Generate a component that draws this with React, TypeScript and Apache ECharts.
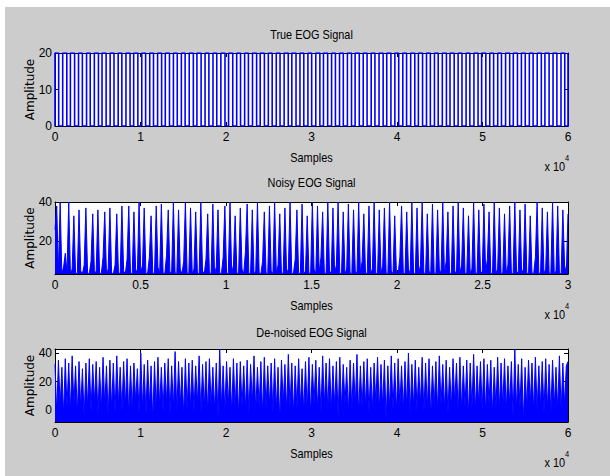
import React, { useEffect, useRef } from "react";
import * as echarts from "echarts";

// ---- data ----
const titles = ["True EOG Signal", "Noisy EOG Signal", "De-noised EOG Signal"];
const xLabel = "Samples";
const yLabel = "Amplitude";
const xScaleNote = "x 10";
const xScaleExp = "4";

// True EOG: sample positions where the square wave toggles between 0 and 20
const trueLow = 0;
const trueHigh = 20;
const trueEdges = [
  0, 430, 900, 1380, 1800, 2290, 2750, 3200, 3690, 4120, 4600, 5080, 5500, 5980, 6450, 6900,
  7390, 7820, 8300, 8780, 9200, 9690, 10150, 10600, 11080, 11520, 12000, 12470, 12900, 13390,
  13850, 14300, 14780, 15220, 15700, 16180, 16600, 17090, 17550, 18000, 18480, 18920, 19400,
  19880, 20300, 20790, 21250, 21700, 22180, 22620, 23100, 23580, 24000, 24490, 24950, 25400,
  25880, 26320, 26800, 27280, 27700, 28190, 28650, 29100, 29580, 30020, 30500, 30980, 31400,
  31890, 32350, 32800, 33280, 33720, 34200, 34680, 35100, 35590, 36050, 36500, 36980, 37420,
  37900, 38380, 38800, 39290, 39750, 40200, 40680, 41120, 41600, 42080, 42500, 42990, 43450,
  43900, 44380, 44820, 45300, 45780, 46200, 46690, 47150, 47600, 48080, 48520, 49000, 49480,
  49900, 50390, 50850, 51300, 51780, 52220, 52700, 53180, 53600, 54090, 54550, 55000, 55480,
  55920, 56400, 56880, 57300, 57790, 58250, 58700, 59180, 59620, 60000,
];

// Noisy EOG: amplitude samples over 0 .. 3e4
const noisyXMax = 30000;
const noisyValues = [
  26, 38, 4, 40, 3.6, 7, 14, 4, 40, 3.6, 6, 33, 4, 3.6, 36, 5, 3.6, 8, 37, 4,
  3.6, 10, 34, 3.6, 5, 36, 4, 3.6, 12, 35, 3.6, 6, 37, 4, 3.6, 8, 34, 3.6, 4, 38,
  5, 3.6, 11, 38, 4, 3.6, 35, 6, 3.6, 40, 4, 8, 37, 3.6, 4, 12, 33, 4, 3.6, 38,
  7, 3.6, 39, 4, 3.6, 13, 36, 3.6, 5, 40, 4, 3.6, 36, 6, 3.6, 10, 40, 4, 3.6, 37,
  3.6, 6, 35, 4, 3.6, 40, 5, 3.6, 11, 34, 3.6, 4, 39, 3.6, 7, 36, 4, 3.6, 12, 38,
  4, 3.6, 40, 3.6, 8, 33, 4, 3.6, 37, 6, 3.6, 15, 39, 3.6, 4, 36, 3.6, 5, 40, 4,
  3.6, 10, 35, 4, 3.6, 38, 5, 3.6, 40, 4, 8, 34, 3.6, 4, 37, 4, 6, 40, 3.6, 4,
  11, 36, 3.6, 4, 39, 3.6, 5, 33, 4, 3.6, 40, 6, 3.6, 38, 4, 12, 35, 3.6, 4, 40,
  5, 3.6, 37, 4, 8, 40, 3.6, 4, 35, 3.6, 6, 39, 4, 3.6, 36, 5, 3.6, 40, 4, 10,
  34, 3.6, 4, 38, 4, 6, 40, 3.6, 4, 36, 3.6, 8, 37, 4, 3.6, 40, 5, 3.6, 33, 4,
  3.6, 12, 38, 4, 3.6, 35, 6, 3.6, 40, 4, 3.6, 37, 3.6, 8, 40, 4, 3.6, 34, 5, 3.6,
  39, 4, 3.6, 36, 6, 3.6, 40, 3.6, 10, 35, 4, 3.6, 38, 5, 3.6, 40, 4, 8, 37, 3.6,
  4, 33, 4, 6, 40, 3.6, 4, 36, 5, 3.6, 39, 4, 11, 35, 3.6, 4, 40, 4, 6, 37,
  3.6, 4, 34, 3.6, 8, 38, 4, 3.6, 40, 5, 3.6, 36, 3.6, 6, 39, 4, 3.6, 33, 4, 3.6,
  12, 40, 4, 3.6, 37, 3.6, 6, 35, 4, 3.6, 40, 3.6, 5, 38, 4, 3.6, 36, 8, 3.6, 34,
];

// De-noised EOG: amplitude samples over 0 .. 6e4
const denoisedXMax = 60000;
const denoisedValues = [
  32, -2, 35, 3, 30, -4, 36, 2, 33, -1, 38, 4, 31, -3, 34, 1, 29, -6, 33, 2,
  36, -1, 32, 5, 34, -3, 30, 0, 37, 3, 31, -5, 35, 1, 33, -2, 38, 4, 30, -1,
  34, 2, 36, -4, 31, 0, 33, 6, 29, -2, 40, 1, 32, -3, 35, 3, 31, -8, 34, 0,
  37, 2, 30, -1, 33, 5, 36, -3, 31, 1, 41, -2, 34, 3, 30, -4, 36, 0, 33, 2,
  35, -1, 31, 4, 38, -3, 32, 1, 34, -2, 36, 3, 30, 0, 33, -5, 42.8, 2, 31, -1,
  34, 4, 30, -2, 36, 1, 33, -4, 34, 2, 31, 0, 35, -3, 32, 5, 38, -1, 30, 2,
  34, -3, 37, 1, 31, 3, 33, -2, 36, 0, 30, -8, 35, 4, 32, -1, 39, 2, 33, -3,
  31, 1, 36, 3, 29, -2, 34, 0, 37, -4, 32, 5, 35, 1, 30, -2, 38, 3, 33, 0,
  36, -1, 31, 2, 34, -5, 37, 1, 32, 4, 30, -2, 35, 0, 33, 3, 39, -3, 31, 1,
  34, 2, 36, -2, 30, 0, 33, 5, 37, -1, 32, 2, 35, -8, 31, 1, 38, 0, 33, -2,
  36, 3, 31, -1, 34, 1, 40, -3, 32, 2, 35, 0, 30, 4, 37, -2, 33, 1, 36, -5,
  31, 2, 34, -1, 38, 3, 32, 0, 35, -3, 30, 1, 36, 5, 33, -2, 37, 0, 31, 2,
  35, -4, 33, 1, 39, -1, 31, 3, 34, 0, 36, -2, 32, 4, 35, -3, 30, 1, 37, 0,
  33, 2, 36, -1, 31, 3, 34, -5, 42.8, 0, 32, 2, 36, -8, 30, 1, 35, 4, 33, -1,
  37, 0, 31, 3, 34, -2, 36, 1, 32, -3, 35, 2, 30, 0, 38, -1, 33, 3, 31, 34,
];

// axis ranges and tick values
const trueY = { min: 0, max: 20, ticks: [0, 10, 20] };
const noisyY = { min: 3.5, max: 40, ticks: [20, 40] };
const denoisedY = { min: -8.3, max: 42.8, ticks: [0, 20, 40] };
const trueXTicks = [0, 10000, 20000, 30000, 40000, 50000, 60000];
const noisyXTicks = [0, 5000, 10000, 15000, 20000, 25000, 30000];
const denoisedXTicks = [0, 10000, 20000, 30000, 40000, 50000, 60000];
const xUnit = 10000;

const SANS = "'Liberation Sans', Arial, sans-serif";
const WIDE = "'DejaVu Sans', sans-serif";
const BLUE = "#0000ff";
const NARROW_SCALE = 0.84;

const grids = [
  { left: 50, top: 46, width: 513, height: 73 },
  { left: 50, top: 195, width: 513, height: 72 },
  { left: 50, top: 342, width: 513, height: 73 },
];

export default function App() {
  const ref = useRef<HTMLDivElement>(null);

  useEffect(() => {
    if (!ref.current) return;
    const chart = echarts.init(ref.current, undefined, { renderer: "svg" });

    const trueData: number[][] = [];
    trueEdges.forEach((e, i) => {
      if (i % 2 === 0) {
        trueData.push([e, trueLow], [e, trueHigh]);
      } else {
        trueData.push([e, trueHigh], [e, trueLow]);
      }
    });
    const noisyData = noisyValues.map((v, i) => [(i * noisyXMax) / (noisyValues.length - 1), v]);
    const denoisedData = denoisedValues.map((v, i) => [
      (i * denoisedXMax) / (denoisedValues.length - 1),
      v,
    ]);

    const lineCommon = { show: true, onZero: false, lineStyle: { color: "#000", width: 1 } };
    const labelCommon = { fontFamily: SANS, fontSize: 12, color: "#000" };

    const xRanges = [
      { max: 60000, ticks: trueXTicks },
      { max: noisyXMax, ticks: noisyXTicks },
      { max: denoisedXMax, ticks: denoisedXTicks },
    ];
    const yRanges = [trueY, noisyY, denoisedY];

    const xAxis: any[] = [];
    const yAxis: any[] = [];
    xRanges.forEach((r, g) => {
      ["bottom", "top"].forEach((pos) => {
        xAxis.push({
          type: "value",
          gridIndex: g,
          position: pos,
          min: 0,
          max: r.max,
          axisLine: lineCommon,
          splitLine: { show: false },
          axisTick: {
            show: true,
            inside: true,
            length: 4,
            customValues: r.ticks,
            lineStyle: { color: "#000" },
          },
          axisLabel: {
            show: pos === "bottom",
            customValues: r.ticks,
            formatter: (v: number) => String(v / xUnit),
            margin: 5,
            ...labelCommon,
          },
        });
      });
    });
    yRanges.forEach((r, g) => {
      ["left", "right"].forEach((pos) => {
        yAxis.push({
          type: "value",
          gridIndex: g,
          position: pos,
          min: r.min,
          max: r.max,
          axisLine: lineCommon,
          splitLine: { show: false },
          axisTick: {
            show: true,
            inside: true,
            length: 4,
            customValues: r.ticks,
            lineStyle: { color: "#000" },
          },
          axisLabel: {
            show: pos === "left",
            customValues: r.ticks,
            margin: 3,
            ...labelCommon,
          },
        });
      });
    });

    const graphic: any[] = [];
    const narrowText = (text: string, x: number, y: number, size: number, align: string) => ({
      type: "text",
      x,
      y,
      scaleX: NARROW_SCALE,
      style: {
        text,
        fontFamily: SANS,
        fontSize: size,
        fill: "#000",
        align,
        verticalAlign: "middle",
      },
    });
    grids.forEach((gr, g) => {
      const cx = gr.left + gr.width / 2;
      const bottom = gr.top + gr.height;
      const titleY = [28, 176, 325.7][g];
      graphic.push(narrowText(titles[g], cx, titleY, 13, "center"));
      graphic.push(narrowText(xLabel, cx, bottom + 31.5, 13, "center"));
      graphic.push(narrowText(xScaleNote, 539.5, bottom + 41, 13, "left"));
      graphic.push(narrowText(xScaleExp, 560, bottom + 31.5, 9, "left"));
      graphic.push({
        type: "text",
        x: 24.7,
        y: gr.top + gr.height / 2,
        rotation: Math.PI / 2,
        style: {
          text: yLabel,
          fontFamily: WIDE,
          fontSize: 12,
          fill: "#000",
          align: "center",
          verticalAlign: "middle",
        },
      });
    });

    chart.setOption({
      animation: false,
      backgroundColor: "transparent",
      grid: grids.map((g) => ({
        ...g,
        show: true,
        backgroundColor: "#ffffff",
        borderWidth: 0,
        containLabel: false,
      })),
      xAxis,
      yAxis,
      graphic,
      series: [
        {
          type: "line",
          xAxisIndex: 0,
          yAxisIndex: 0,
          data: trueData,
          symbol: "none",
          lineStyle: { color: BLUE, width: 1.6 },
          clip: true,
        },
        {
          type: "line",
          xAxisIndex: 2,
          yAxisIndex: 2,
          data: noisyData,
          symbol: "none",
          lineStyle: { color: BLUE, width: 1 },
          areaStyle: { color: BLUE, opacity: 1, origin: "start" },
          clip: true,
        },
        {
          type: "line",
          xAxisIndex: 4,
          yAxisIndex: 4,
          data: denoisedData,
          symbol: "none",
          lineStyle: { color: BLUE, width: 1 },
          areaStyle: { color: BLUE, opacity: 1, origin: "start" },
          clip: true,
        },
      ],
    });

    return () => chart.dispose();
  }, []);

  return (
    <div
      style={{
        position: "fixed",
        left: 0,
        top: 0,
        width: 610,
        height: 476,
        background: "#ffffff",
      }}
    >
      <div
        ref={ref}
        style={{
          position: "absolute",
          left: 5,
          top: 7,
          width: 605,
          height: 469,
          background: "#cccccc",
        }}
      />
    </div>
  );
}
